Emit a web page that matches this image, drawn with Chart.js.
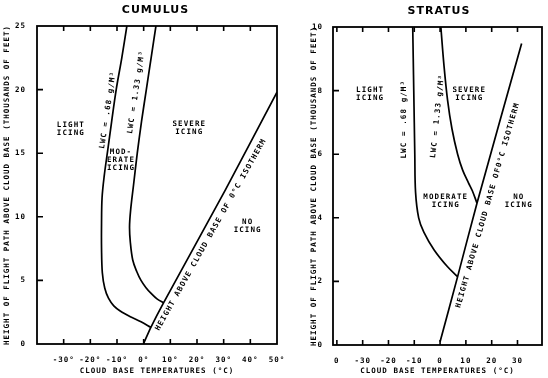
<!DOCTYPE html>
<html><head><meta charset="utf-8">
<script src="https://cdn.jsdelivr.net/npm/chart.js@4/dist/chart.umd.min.js"></script>
<style>
html,body{margin:0;padding:0;background:#fff;width:548px;height:378px;overflow:hidden}
canvas{position:absolute;top:0}
#c1{left:0;width:290px;height:378px}
#c2{left:290px;width:258px;height:378px}
</style></head><body>
<canvas id="c1" width="290" height="378"></canvas>
<canvas id="c2" width="258" height="378"></canvas>
<script>
// ---------- CUMULUS data (x = cloud base temperature °C, y = height, thousands of feet) ----------
const cumulusLwc068Temp   = [-6.3, -8.2, -10.3, -12.0, -13.5, -14.8, -15.6, -15.8, -15.8, -15.5, -14.6, -13.2, -11.2, -8.8, -5.0, -1.0, 2.7];
const cumulusLwc068Height = [25, 22.5, 20, 17.5, 15.2, 13.2, 11.5, 9.5, 7.5, 5.6, 4.4, 3.6, 3.0, 2.6, 2.15, 1.75, 1.31];
const cumulusLwc133Temp   = [4.6, 2.8, 1.0, -0.8, -2.4, -3.8, -4.9, -5.3, -5.0, -4.1, -2.6, -1.0, 0.8, 2.7, 5.0, 7.5];
const cumulusLwc133Height = [25, 22.5, 20, 17.5, 15, 12.5, 10.5, 9.2, 8.0, 6.6, 5.7, 5.0, 4.45, 4.0, 3.55, 3.25];
const cumulusIsoTemp      = [0, 2.7, 7.5, 30.6, 50];
const cumulusIsoHeight    = [0.05, 1.31, 3.25, 12.1, 19.8];
const cumulusXTickValues  = [-30, -20, -10, 0, 10, 20, 30, 40, 50];
const cumulusXTickLabels  = ['-30°', '-20°', '-10°', '0°', '10°', '20°', '30°', '40°', '50°'];
const cumulusYTickValues  = [0, 5, 10, 15, 20, 25];
const cumulusYTickLabels  = ['0', '5', '10', '15', '20', '25'];

// ---------- STRATUS data ----------
const stratusLwc068Temp   = [-10.6, -10.4, -10.2, -10.0, -9.8, -9.5, -8.3, -6.3, -2.3, 2.9, 6.8];
const stratusLwc068Height = [10, 9, 8, 7, 6, 4.8, 4.0, 3.55, 2.99, 2.46, 2.15];
const stratusLwc133Temp   = [0.3, 1.5, 2.9, 4.6, 6.8, 8.75, 11.0, 12.5, 14.3];
const stratusLwc133Height = [10, 8.8, 7.7, 6.8, 6.0, 5.5, 5.1, 4.85, 4.46];
const stratusIsoTemp      = [0, 6.8, 14.3, 31.6];
const stratusIsoHeight    = [0.1, 2.15, 4.46, 9.48];
const stratusXTickValues  = [-40, -30, -20, -10, 0, 10, 20, 30];
const stratusXTickLabels  = ['0', '-30', '-20', '-10', '0', '10', '20', '30'];
const stratusYTickValues  = [0, 2, 4, 6, 8, 10];
const stratusYTickLabels  = ['0', '2', '4', '6', '8', '10'];

const yTitleText = 'HEIGHT OF FLIGHT PATH ABOVE CLOUD BASE (THOUSANDS OF FEET)';
const xTitleText = 'CLOUD BASE TEMPERATURES (°C)';

function zip(xs, ys) { return xs.map((v, i) => ({x: v, y: ys[i]})); }

const MONO = '"DejaVu Sans Mono", "Liberation Mono", monospace';

const framePlugin = {
  id: 'frame',
  beforeDraw(chart) { chart.ctx.letterSpacing = '1px'; },
  afterDatasetsDraw(chart, args, o) {
    const ctx = chart.ctx, a = chart.chartArea, x = chart.scales.x, y = chart.scales.y;
    ctx.save();
    ctx.strokeStyle = '#000';
    ctx.lineWidth = 1.8;
    ctx.strokeRect(a.left, a.top, a.right - a.left, a.bottom - a.top);
    ctx.lineWidth = 1.6;
    ctx.beginPath();
    o.xTicks.forEach(v => {
      if (v <= x.min || v >= x.max) return;
      const px = x.getPixelForValue(v);
      ctx.moveTo(px, a.bottom); ctx.lineTo(px, a.bottom - 5);
      ctx.moveTo(px, a.top); ctx.lineTo(px, a.top + 5);
    });
    o.yTicks.forEach(v => {
      if (v <= y.min || v >= y.max) return;
      const py = y.getPixelForValue(v);
      ctx.moveTo(a.left, py); ctx.lineTo(a.left + 6, py);
    });
    ctx.stroke();
    ctx.fillStyle = '#000';
    ctx.textAlign = 'center';
    ctx.textBaseline = 'middle';
    ctx.letterSpacing = '1px';
    ctx.font = 'bold 11px "DejaVu Sans", sans-serif';
    ctx.fillText(o.title, o.titleX, o.titleY);
    ctx.font = 'bold 7.5px ' + MONO;
    ctx.letterSpacing = '1.1px';
    o.notes.forEach(n => {
      const px = x.getPixelForValue(n.x), py = y.getPixelForValue(n.y);
      ctx.save();
      ctx.translate(px, py);
      ctx.rotate((n.rot || 0) * Math.PI / 180);
      n.text.forEach((t, i) => ctx.fillText(t, 0, (i - (n.text.length - 1) / 2) * 8));
      ctx.restore();
    });
    ctx.restore();
  }
};

function makeChart(id, cfg) {
  const lineDs = (data, tension) => ({
    data, showLine: true, borderColor: '#000', borderWidth: 1.7,
    pointRadius: 0, tension: tension, fill: false
  });
  return new Chart(document.getElementById(id), {
    type: 'scatter',
    data: { datasets: [
      lineDs(cfg.lwc068, 0.35),
      lineDs(cfg.lwc133, 0.35),
      lineDs(cfg.iso, 0.2)
    ]},
    plugins: [framePlugin],
    options: {
      responsive: false, animation: false, devicePixelRatio: 1,
      layout: { padding: cfg.padding },
      plugins: {
        legend: { display: false }, tooltip: { enabled: false }, title: { display: false },
        frame: { xTicks: cfg.xTicks, yTicks: cfg.yTicks, title: cfg.title,
                 titleX: cfg.titleX, titleY: cfg.titleY, notes: cfg.notes }
      },
      scales: {
        x: {
          type: 'linear', position: 'bottom', min: cfg.xMin, max: cfg.xMax,
          afterBuildTicks: s => { s.ticks = cfg.xTicks.map(v => ({value: v})); },
          afterFit: s => { s.height = cfg.xAxisHeight; },
          grid: { display: false }, border: { display: false },
          ticks: { autoSkip: false, maxRotation: 0, padding: 3.5, color: '#000',
                   font: { family: MONO, size: 7.5, weight: 'bold' },
                   callback: v => cfg.xLabels[cfg.xTicks.indexOf(v)] },
          title: { display: true, text: xTitleText, color: '#000', padding: { top: 0, bottom: 2 },
                   font: { family: MONO, size: 7.5, weight: 'bold' } }
        },
        y: {
          type: 'linear', position: 'left', min: cfg.yMin, max: cfg.yMax,
          afterBuildTicks: s => { s.ticks = cfg.yTicks.map(v => ({value: v})); },
          afterFit: s => { s.width = cfg.yAxisWidth; },
          grid: { display: false }, border: { display: false },
          ticks: { padding: cfg.yTickPad, color: '#000',
                   font: { family: MONO, size: 7.5, weight: 'bold' },
                   callback: v => cfg.yLabels[cfg.yTicks.indexOf(v)] },
          title: { display: true, text: yTitleText, color: '#000', padding: { top: cfg.yTitlePad, bottom: 0 },
                   font: { family: MONO, size: 7.5, weight: 'bold' } }
        }
      }
    }
  });
}

makeChart('c1', {
  lwc068: zip(cumulusLwc068Temp, cumulusLwc068Height),
  lwc133: zip(cumulusLwc133Temp, cumulusLwc133Height),
  iso: zip(cumulusIsoTemp, cumulusIsoHeight),
  xTicks: cumulusXTickValues, xLabels: cumulusXTickLabels,
  yTicks: cumulusYTickValues, yLabels: cumulusYTickLabels,
  xMin: -40, xMax: 50, yMin: 0, yMax: 25,
  padding: { top: 26, right: 13, left: 0, bottom: 0 },
  xAxisHeight: 34, yAxisWidth: 37, yTickPad: 3, yTitlePad: 2.5,
  title: 'CUMULUS', titleX: 155.5, titleY: 10,
  notes: [
    { text: ['LIGHT', 'ICING'], x: -27.3, y: 16.9 },
    { text: ['SEVERE', 'ICING'], x: 17.1, y: 17.0 },
    { text: ['MOD-', 'ERATE', 'ICING'], x: -8.5, y: 14.45 },
    { text: ['NO', 'ICING'], x: 39, y: 9.3 },
    { text: ['LWC = .68 g/M³'], x: -13.4, y: 18.4, rot: -81.5 },
    { text: ['LWC = 1.33 g/M³'], x: -2.8, y: 19.8, rot: -81.5 },
    { text: ['HEIGHT ABOVE CLOUD BASE OF 0°C ISOTHERM'], x: 25.2, y: 8.6, rot: -60.7 }
  ]
});

makeChart('c2', {
  lwc068: zip(stratusLwc068Temp, stratusLwc068Height),
  lwc133: zip(stratusLwc133Temp, stratusLwc133Height),
  iso: zip(stratusIsoTemp, stratusIsoHeight),
  xTicks: stratusXTickValues, xLabels: stratusXTickLabels,
  yTicks: stratusYTickValues, yLabels: stratusYTickLabels,
  xMin: -41.5, xMax: 39.5, yMin: 0, yMax: 10,
  padding: { top: 27, right: 6, left: 0, bottom: 0 },
  xAxisHeight: 33, yAxisWidth: 43, yTickPad: 2, yTitlePad: 19.5,
  title: 'STRATUS', titleX: 149, titleY: 11,
  notes: [
    { text: ['LIGHT', 'ICING'], x: -27.1, y: 7.88 },
    { text: ['SEVERE', 'ICING'], x: 11.3, y: 7.9 },
    { text: ['MODERATE', 'ICING'], x: 2.2, y: 4.52 },
    { text: ['NO', 'ICING'], x: 30.5, y: 4.52 },
    { text: ['LWC = .68 g/M³'], x: -14, y: 7.1, rot: -90 },
    { text: ['LWC = 1.33 g/M³'], x: -1, y: 7.2, rot: -84 },
    { text: ['HEIGHT ABOVE CLOUD BASE OF0°C ISOTHERM'], x: 18.5, y: 4.4, rot: -73.9 }
  ]
});
</script>
</body></html>
